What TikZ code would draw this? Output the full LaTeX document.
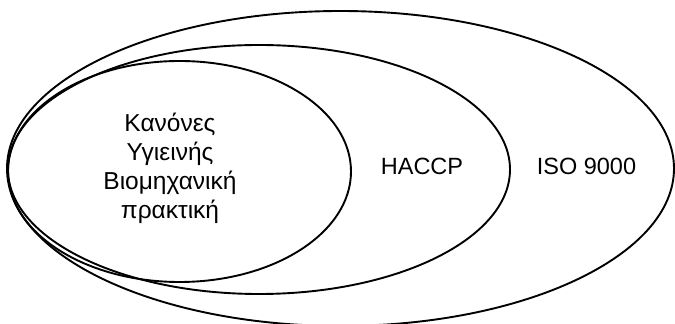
\documentclass[tikz,border=0pt]{standalone}
\usepackage{fontspec}
\setmainfont{Liberation Sans}
\begin{document}
\begin{tikzpicture}[x=1pt,y=1pt,
  ring/.style={draw=black,line width=1.9pt},
  lbl/.style={inner sep=0pt,anchor=base,font=\fontsize{23.5}{29}\selectfont},
  glbl/.style={lbl,font=\fontsize{24.5}{29}\selectfont}]
\useasboundingbox (0,0) rectangle (675,324);
\draw[ring] (340.5,155.5) ellipse [x radius=333.5, y radius=157.5];
\draw[ring] (259,154.5) ellipse [x radius=251, y radius=124.5];
\draw[ring] (179.5,152.5) ellipse [x radius=171.5, y radius=110.5];
\node[glbl] (l1) at (170,192) {Κανόνες};
\node[glbl] (l2) at (170,163) {Υγιεινής};
\node[glbl] (l3) at (170,134) {Βιομηχανική};
\node[glbl] (l4) at (170,105) {πρακτική};
\node[lbl] (haccp) at (422,149) {HACCP};
\node[lbl] (iso) at (586.5,149) {ISO 9000};
\end{tikzpicture}
\end{document}
